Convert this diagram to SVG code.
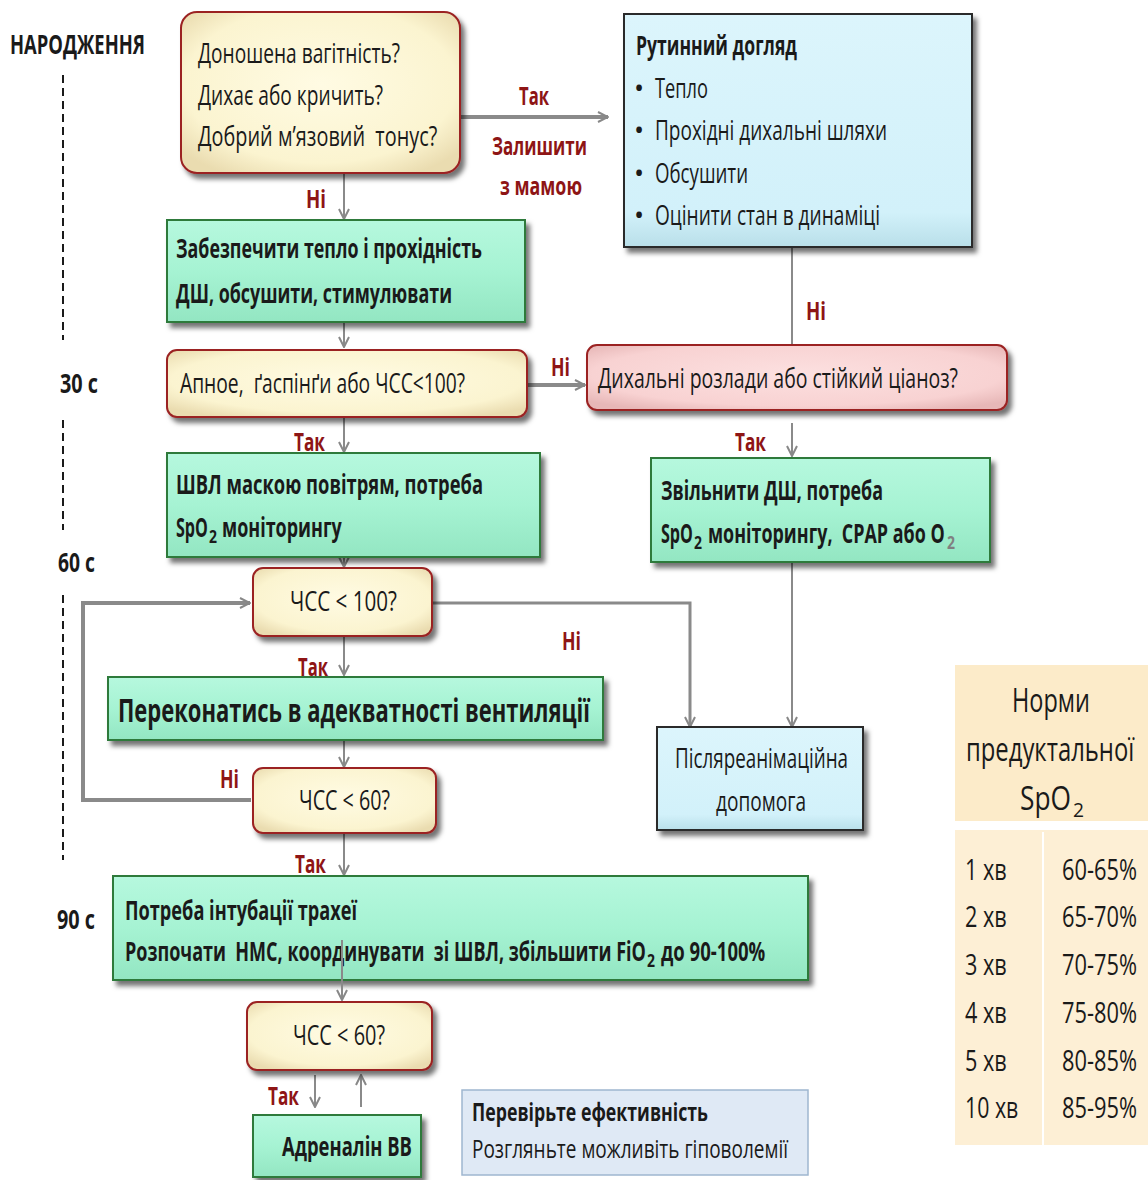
<svg xmlns="http://www.w3.org/2000/svg" width="1148" height="1180" viewBox="0 0 1148 1180">
<defs>
<filter id="sh" x="-10%" y="-10%" width="130%" height="140%">
<feDropShadow dx="4" dy="5" stdDeviation="2.5" flood-color="#000" flood-opacity="0.55"/>
</filter>
<radialGradient id="gy" cx="50%" cy="45%" r="65%">
<stop offset="0" stop-color="#fffbe3"/><stop offset="0.75" stop-color="#fbf4d0"/><stop offset="1" stop-color="#eadcb0"/>
</radialGradient>
<radialGradient id="gp" cx="50%" cy="45%" r="65%">
<stop offset="0" stop-color="#fce0e0"/><stop offset="0.75" stop-color="#f8d2d2"/><stop offset="1" stop-color="#e7b7b7"/>
</radialGradient>
<linearGradient id="gg" x1="0" y1="0" x2="0" y2="1">
<stop offset="0" stop-color="#b6f8de"/><stop offset="0.5" stop-color="#a6f3d3"/><stop offset="1" stop-color="#93e6c2"/>
</linearGradient>
<linearGradient id="gb" x1="0" y1="0" x2="0" y2="1">
<stop offset="0" stop-color="#dcf5fc"/><stop offset="0.85" stop-color="#d2f1fa"/><stop offset="1" stop-color="#b9dfe9"/>
</linearGradient>
<marker id="ar" viewBox="0 0 12 12" refX="11" refY="6" markerWidth="12" markerHeight="12" markerUnits="userSpaceOnUse" orient="auto">
<path d="M1,1 L11,6 L1,11" fill="none" stroke="#888" stroke-width="2"/>
</marker>
<style>
text{font-family:"Open Sans","Noto Sans","Liberation Sans",sans-serif;fill:#1a1a1a}
.r{font-size:27px}
.b{font-size:26px;font-weight:bold}
.sb{font-size:17px;font-weight:bold}
.lab{font-size:25px;font-weight:bold;fill:#8e1515}
.yel{fill:url(#gy);stroke:#9b2222;stroke-width:2}
.pnk{fill:url(#gp);stroke:#9b2222;stroke-width:2}
.grn{fill:url(#gg);stroke:#2d7a3a;stroke-width:2}
.blu{fill:url(#gb);stroke:#2a2a2a;stroke-width:2}
.c{fill:none;stroke:#8a8a8a;stroke-width:2}
.cw{fill:none;stroke:#8a8a8a;stroke-width:4}
.dash{stroke:#1a1a1a;stroke-width:2;stroke-dasharray:8 5}
</style>
</defs>
<rect width="1148" height="1180" fill="#fff"/>

<g id="timeline">
<text class="b" x="10" y="54" textLength="135" lengthAdjust="spacingAndGlyphs">НАРОДЖЕННЯ</text>
<line class="dash" x1="63" y1="75" x2="63" y2="340"/>
<text class="b" x="60" y="393" textLength="38" lengthAdjust="spacingAndGlyphs">30 с</text>
<line class="dash" x1="63" y1="420" x2="63" y2="530"/>
<text class="b" x="58" y="572" textLength="37" lengthAdjust="spacingAndGlyphs">60 с</text>
<line class="dash" x1="63" y1="595" x2="63" y2="860"/>
<text class="b" x="57" y="929" textLength="38" lengthAdjust="spacingAndGlyphs">90 с</text>
</g>

<g id="connectors">
<line class="cw" x1="461" y1="117" x2="608" y2="117" marker-end="url(#ar)"/>
<line class="c" x1="344" y1="174" x2="344" y2="219" marker-end="url(#ar)"/>
<line class="c" x1="792" y1="248" x2="792" y2="345"/>
<line class="c" x1="344" y1="323" x2="344" y2="347" marker-end="url(#ar)"/>
<line class="cw" x1="528" y1="385" x2="585" y2="385" marker-end="url(#ar)"/>
<line class="c" x1="344" y1="418" x2="344" y2="452" marker-end="url(#ar)"/>
<line class="c" x1="792" y1="423" x2="792" y2="456" marker-end="url(#ar)"/>
<line class="c" x1="792" y1="563" x2="792" y2="727" marker-end="url(#ar)"/>
<line class="c" x1="344" y1="558" x2="344" y2="567" marker-end="url(#ar)"/>
<polyline class="c" style="stroke-width:3" points="433,603 690,603 690,727" marker-end="url(#ar)"/>
<line class="c" x1="344" y1="637" x2="344" y2="675" marker-end="url(#ar)"/>
<line class="c" x1="344" y1="741" x2="344" y2="767" marker-end="url(#ar)"/>
<polyline class="cw" points="251,800 83,800 83,603 250,603" marker-end="url(#ar)"/>
<line class="c" x1="344" y1="834" x2="344" y2="875" marker-end="url(#ar)"/>
<line class="c" x1="315" y1="1075" x2="315" y2="1107" marker-end="url(#ar)"/>
<line class="c" x1="361" y1="1107" x2="361" y2="1075" marker-end="url(#ar)"/>
</g>

<g id="labels">
<text class="lab" x="519" y="105" textLength="30" lengthAdjust="spacingAndGlyphs">Так</text>
<text class="lab" x="492" y="155" textLength="95" lengthAdjust="spacingAndGlyphs">Залишити</text>
<text class="lab" x="500" y="195" textLength="82" lengthAdjust="spacingAndGlyphs">з мамою</text>
<text class="lab" x="306" y="208" textLength="20" lengthAdjust="spacingAndGlyphs">Ні</text>
<text class="lab" x="806" y="320" textLength="20" lengthAdjust="spacingAndGlyphs">Ні</text>
<text class="lab" x="551" y="376" textLength="19" lengthAdjust="spacingAndGlyphs">Ні</text>
<text class="lab" x="294" y="451" textLength="31" lengthAdjust="spacingAndGlyphs">Так</text>
<text class="lab" x="735" y="451" textLength="31" lengthAdjust="spacingAndGlyphs">Так</text>
<text class="lab" x="562" y="650" textLength="19" lengthAdjust="spacingAndGlyphs">Ні</text>
<text class="lab" x="298" y="676" textLength="30" lengthAdjust="spacingAndGlyphs">Так</text>
<text class="lab" x="220" y="788" textLength="19" lengthAdjust="spacingAndGlyphs">Ні</text>
<text class="lab" x="295" y="873" textLength="31" lengthAdjust="spacingAndGlyphs">Так</text>
<text class="lab" x="268" y="1105" textLength="31" lengthAdjust="spacingAndGlyphs">Так</text>
</g>

<g id="n-start">
<rect class="yel" x="181" y="12" width="279" height="161" rx="16" filter="url(#sh)"/>
<text class="r" x="198" y="63" textLength="202" lengthAdjust="spacingAndGlyphs">Доношена вагітність?</text>
<text class="r" x="198" y="105" textLength="185" lengthAdjust="spacingAndGlyphs">Дихає або кричить?</text>
<text class="r" transform="translate(198,146) scale(0.75,1)" textLength="319" lengthAdjust="spacingAndGlyphs" xml:space="preserve">Добрий м’язовий  тонус?</text>
</g>

<g id="n-routine">
<rect class="blu" x="624" y="14" width="348" height="233" filter="url(#sh)"/>
<text class="b" x="636" y="55" textLength="161" lengthAdjust="spacingAndGlyphs">Рутинний догляд</text>
<text class="r" x="634" y="98">•</text>
<text class="r" x="655" y="98" textLength="53" lengthAdjust="spacingAndGlyphs">Тепло</text>
<text class="r" x="634" y="140">•</text>
<text class="r" x="655" y="140" textLength="232" lengthAdjust="spacingAndGlyphs">Прохідні дихальні шляхи</text>
<text class="r" x="634" y="183">•</text>
<text class="r" x="655" y="183" textLength="93" lengthAdjust="spacingAndGlyphs">Обсушити</text>
<text class="r" x="634" y="225">•</text>
<text class="r" x="655" y="225" textLength="225" lengthAdjust="spacingAndGlyphs">Оцінити стан в динаміці</text>
</g>

<g id="n-warm">
<rect class="grn" x="167" y="220" width="358" height="102" filter="url(#sh)"/>
<text class="b" x="176" y="258" textLength="306" lengthAdjust="spacingAndGlyphs">Забезпечити тепло і прохідність</text>
<text class="b" x="176" y="303" textLength="276" lengthAdjust="spacingAndGlyphs">ДШ, обсушити, стимулювати</text>
</g>

<g id="n-apnea">
<rect class="yel" x="167" y="350" width="360" height="67" rx="10" filter="url(#sh)"/>
<text class="r" transform="translate(180,393) scale(0.72,1)" textLength="396" lengthAdjust="spacingAndGlyphs" xml:space="preserve">Апное,  ґаспінґи або ЧСС&lt;100?</text>
</g>

<g id="n-resp">
<rect class="pnk" x="587" y="345" width="420" height="65" rx="10" filter="url(#sh)"/>
<text class="r" x="598" y="388" textLength="360" lengthAdjust="spacingAndGlyphs">Дихальні розлади або стійкий ціаноз?</text>
</g>

<g id="n-ppv">
<rect class="grn" x="167" y="453" width="373" height="104" filter="url(#sh)"/>
<text class="b" x="176" y="494" textLength="307" lengthAdjust="spacingAndGlyphs">ШВЛ маскою повітрям, потреба</text>
<text class="b" transform="translate(176,537) scale(0.65,1)" textLength="49" lengthAdjust="spacingAndGlyphs">SpO</text>
<text class="sb" x="209" y="543" textLength="8" lengthAdjust="spacingAndGlyphs">2</text>
<text class="b" transform="translate(222,537) scale(0.7,1)" textLength="171" lengthAdjust="spacingAndGlyphs">моніторингу</text>
</g>

<g id="n-cpap">
<rect class="grn" x="651" y="458" width="339" height="104" filter="url(#sh)"/>
<text class="b" x="661" y="500" textLength="222" lengthAdjust="spacingAndGlyphs">Звільнити ДШ, потреба</text>
<text class="b" transform="translate(661,543) scale(0.65,1)" textLength="49" lengthAdjust="spacingAndGlyphs">SpO</text>
<text class="sb" x="694" y="549" textLength="8" lengthAdjust="spacingAndGlyphs">2</text>
<text class="b" transform="translate(708,543) scale(0.69,1)" textLength="343" lengthAdjust="spacingAndGlyphs" xml:space="preserve">моніторингу,  CPAP або O</text>
<text class="sb" x="947" y="549" textLength="8" lengthAdjust="spacingAndGlyphs" style="fill:#808080">2</text>
</g>

<g id="n-hr100">
<rect class="yel" x="253" y="568" width="179" height="68" rx="10" filter="url(#sh)"/>
<text class="r" x="290" y="611" textLength="107" lengthAdjust="spacingAndGlyphs">ЧСС &lt; 100?</text>
</g>

<g id="n-vent">
<rect class="grn" x="108" y="677" width="495" height="63" filter="url(#sh)"/>
<text x="118" y="722" font-size="33" font-weight="bold" textLength="472" lengthAdjust="spacingAndGlyphs">Переконатись в адекватності вентиляції</text>
</g>

<g id="n-hr60a">
<rect class="yel" x="253" y="768" width="183" height="65" rx="10" filter="url(#sh)"/>
<text class="r" x="299" y="810" textLength="91" lengthAdjust="spacingAndGlyphs">ЧСС &lt; 60?</text>
</g>

<g id="n-post">
<rect class="blu" x="657" y="727" width="206" height="103" filter="url(#sh)"/>
<text class="r" x="675" y="768" textLength="173" lengthAdjust="spacingAndGlyphs">Післяреанімаційна</text>
<text class="r" x="716" y="811" textLength="90" lengthAdjust="spacingAndGlyphs">допомога</text>
</g>

<g id="n-intub">
<rect class="grn" x="113" y="876" width="695" height="104" filter="url(#sh)"/>
<text class="b" x="125" y="920" textLength="232" lengthAdjust="spacingAndGlyphs">Потреба інтубації трахеї</text>
<text class="b" transform="translate(125,961) scale(0.68,1)" textLength="766" lengthAdjust="spacingAndGlyphs" xml:space="preserve">Розпочати  НМС, координувати  зі ШВЛ, збільшити FiO</text>
<text class="sb" x="647" y="967" textLength="8" lengthAdjust="spacingAndGlyphs">2</text>
<text class="b" transform="translate(661,961) scale(0.7,1)" textLength="149" lengthAdjust="spacingAndGlyphs">до 90-100%</text>
<line class="c" x1="342" y1="940" x2="342" y2="1000" marker-end="url(#ar)"/>
</g>

<g id="n-hr60b">
<rect class="yel" x="247" y="1002" width="185" height="68" rx="10" filter="url(#sh)"/>
<text class="r" x="293" y="1045" textLength="92" lengthAdjust="spacingAndGlyphs">ЧСС &lt; 60?</text>
</g>

<g id="n-adr">
<rect class="grn" x="253" y="1115" width="168" height="62" filter="url(#sh)"/>
<text class="b" x="282" y="1156" textLength="130" lengthAdjust="spacingAndGlyphs">Адреналін ВВ</text>
</g>

<g id="n-note">
<rect x="462" y="1090" width="346" height="85" fill="#dfe9f5" stroke="#9fb6cf" stroke-width="1.5"/>
<text class="b" x="472" y="1121" style="font-size:25px" textLength="236" lengthAdjust="spacingAndGlyphs">Перевірьте ефективність</text>
<text class="r" x="472" y="1158" style="font-size:25px" textLength="316" lengthAdjust="spacingAndGlyphs">Розгляньте можливіть гіповолемії</text>
</g>

<g id="n-table">
<rect x="955" y="665" width="193" height="156" fill="#fcebc9"/>
<rect x="955" y="830" width="193" height="315" fill="#fdefd5"/>
<line x1="1043" y1="832" x2="1043" y2="1145" stroke="#fff" stroke-width="2"/>
<text transform="translate(1012,712) scale(0.82,1)" font-size="33" textLength="95" lengthAdjust="spacingAndGlyphs">Норми</text>
<text transform="translate(966,761) scale(0.71,1)" font-size="33" textLength="237" lengthAdjust="spacingAndGlyphs">предуктальної</text>
<text transform="translate(1020,810) scale(0.81,1)" font-size="33" textLength="63" lengthAdjust="spacingAndGlyphs">SpO</text>
<text x="1073" y="817" font-size="20" textLength="11" lengthAdjust="spacingAndGlyphs">2</text>
<g font-size="29">
<text transform="translate(965,880) scale(0.76,1)" textLength="55" lengthAdjust="spacingAndGlyphs">1 хв</text>
<text transform="translate(965,927) scale(0.76,1)" textLength="55" lengthAdjust="spacingAndGlyphs">2 хв</text>
<text transform="translate(965,975) scale(0.76,1)" textLength="55" lengthAdjust="spacingAndGlyphs">3 хв</text>
<text transform="translate(965,1023) scale(0.76,1)" textLength="55" lengthAdjust="spacingAndGlyphs">4 хв</text>
<text transform="translate(965,1071) scale(0.76,1)" textLength="55" lengthAdjust="spacingAndGlyphs">5 хв</text>
<text transform="translate(965,1118) scale(0.74,1)" textLength="72" lengthAdjust="spacingAndGlyphs">10 хв</text>
<text transform="translate(1062,880) scale(0.75,1)" textLength="100" lengthAdjust="spacingAndGlyphs">60-65%</text>
<text transform="translate(1062,927) scale(0.75,1)" textLength="100" lengthAdjust="spacingAndGlyphs">65-70%</text>
<text transform="translate(1062,975) scale(0.75,1)" textLength="100" lengthAdjust="spacingAndGlyphs">70-75%</text>
<text transform="translate(1062,1023) scale(0.75,1)" textLength="100" lengthAdjust="spacingAndGlyphs">75-80%</text>
<text transform="translate(1062,1071) scale(0.75,1)" textLength="100" lengthAdjust="spacingAndGlyphs">80-85%</text>
<text transform="translate(1062,1118) scale(0.75,1)" textLength="100" lengthAdjust="spacingAndGlyphs">85-95%</text>
</g>
</g>
</svg>
